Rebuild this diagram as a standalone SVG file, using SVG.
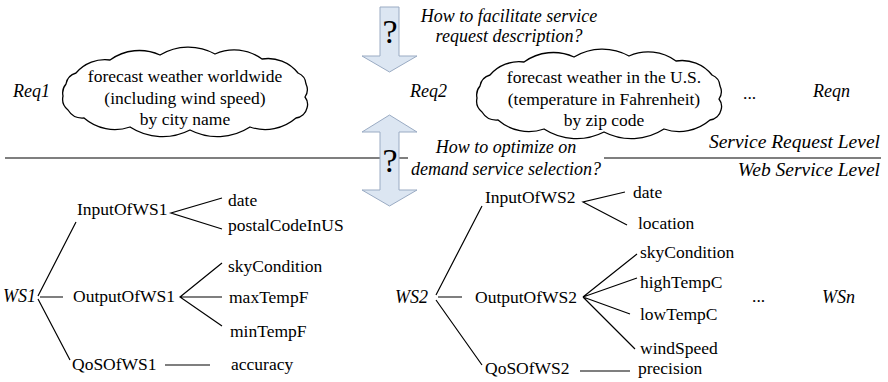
<svg xmlns="http://www.w3.org/2000/svg" width="888" height="382" viewBox="0 0 888 382">
<style>
.t{font-family:"Liberation Serif","Times New Roman",serif;font-size:17.5px;fill:#000}
.i{font-style:italic;font-size:18px}
.m{text-anchor:middle}
.e{text-anchor:end}
.q{font-size:34px;text-anchor:middle}
.lvl{font-size:19.5px}
.ln{stroke:#000;stroke-width:1.2;fill:none}
.cloud{fill:#fff;stroke:#000;stroke-width:1.3}
.arrow{fill:#dce6f2;stroke:#9aabc3;stroke-width:1}
</style>
<defs>
<path id="cloudShape" d="M63,96 A14 14 0 0 1 66,84 A14 14 0 0 1 76,73 A38 38 0 0 1 110,60 A50 50 0 0 1 160,55 A55 55 0 0 1 215,54 A47 47 0 0 1 262,59 A38 38 0 0 1 298,73 A13 13 0 0 1 306,84 A13 13 0 0 1 305,97 A12 12 0 0 1 307,108 A13 13 0 0 1 296,118 A47 47 0 0 1 250,127 A60 60 0 0 1 190,130 A60 60 0 0 1 130,127 A47 47 0 0 1 84,118 A17 17 0 0 1 68,110 A14 14 0 0 1 63,96 Z"/>
</defs>
<rect width="888" height="382" fill="#fff"/>

<g id="level-divider">
<line class="ln" x1="5" y1="158" x2="408" y2="158"/>
<line class="ln" x1="604" y1="158" x2="881" y2="158"/>
<text class="t i lvl e" x="880" y="148">Service Request Level</text>
<text class="t i lvl e" x="880" y="176">Web Service Level</text>
</g>

<g id="arrow-describe">
<polygon class="arrow" points="380,7 399,7 399,56 417,56 389.5,72 362,56 380,56"/>
<text class="t q" x="390" y="43">?</text>
<text class="t i m" x="509" y="22">How to facilitate service</text>
<text class="t i m" x="509" y="42">request description?</text>
</g>

<g id="arrow-select">
<polygon class="arrow" points="389.5,115 417,132 399,132 399,190 417,190 389.5,206 362,190 380,190 380,132 362,132"/>
<text class="t q" x="390" y="172">?</text>
<text class="t i m" x="506" y="153">How to optimize on</text>
<text class="t i m" x="506" y="175">demand service selection?</text>
</g>

<g id="req1">
<text class="t i" x="13" y="97">Req1</text>
<use href="#cloudShape" class="cloud"/>
<text class="t m" x="185" y="82">forecast weather worldwide</text>
<text class="t m" x="185" y="104">(including wind speed)</text>
<text class="t m" x="185" y="125">by city name</text>
</g>

<g id="req2">
<text class="t i" x="410" y="97">Req2</text>
<use href="#cloudShape" class="cloud" transform="translate(414,2)"/>
<text class="t m" x="604" y="83">forecast weather in the U.S.</text>
<text class="t m" x="604" y="105">(temperature in Fahrenheit)</text>
<text class="t m" x="604" y="126">by zip code</text>
</g>

<g id="reqn">
<text class="t" x="743" y="99">...</text>
<text class="t i" x="813" y="97">Reqn</text>
</g>

<g id="ws1">
<text class="t i" x="3" y="302">WS1</text>
<text class="t" x="77" y="215">InputOfWS1</text>
<text class="t" x="73" y="302">OutputOfWS1</text>
<text class="t" x="72" y="370">QoSOfWS1</text>
<text class="t" x="228" y="206">date</text>
<text class="t" x="228" y="231">postalCodeInUS</text>
<text class="t" x="228" y="272">skyCondition</text>
<text class="t" x="229" y="303">maxTempF</text>
<text class="t" x="230" y="337">minTempF</text>
<text class="t" x="231" y="370">accuracy</text>
</g>

<g id="ws2">
<text class="t i" x="395" y="303">WS2</text>
<text class="t" x="485" y="203">InputOfWS2</text>
<text class="t" x="475" y="303">OutputOfWS2</text>
<text class="t" x="485" y="374">QoSOfWS2</text>
<text class="t" x="633" y="198">date</text>
<text class="t" x="638" y="229">location</text>
<text class="t" x="640" y="258">skyCondition</text>
<text class="t" x="640" y="288">highTempC</text>
<text class="t" x="640" y="320">lowTempC</text>
<text class="t" x="640" y="354">windSpeed</text>
<text class="t" x="638" y="374">precision</text>
</g>

<g id="wsn">
<text class="t" x="752" y="302">...</text>
<text class="t i" x="822" y="303">WSn</text>
</g>

<g id="connectors" class="ln">
<path d="M76,222 L38,296 M63,297 L40,297 M70,360 L38,299"/>
<path d="M222,198 L171,213 L222,229"/>
<path d="M222,263 L180,297 L222,326 M180,297 L222,297"/>
<path d="M165,365 L210,365"/>
<path d="M482,206 L436,295 M462,297 L438,297 M482,365 L436,300"/>
<path d="M625,192 L583,202 L627,225"/>
<path d="M637,254 L583,297 L637,278 M583,297 L630,314 M583,297 L635,349"/>
<path d="M580,371 L630,371"/>
</g>
</svg>
